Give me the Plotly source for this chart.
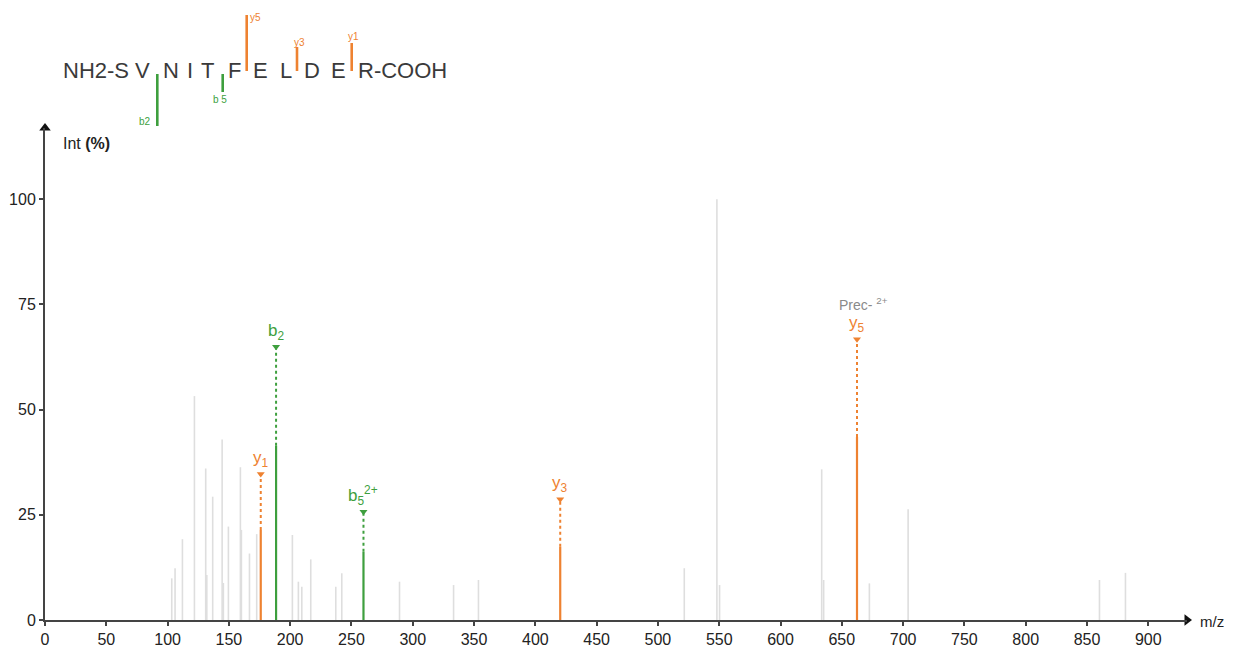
import plotly.graph_objects as go

# ---------------- data ----------------
other_mz = [103.4, 106.1, 112.1, 121.9, 131.1, 132.0, 136.8, 144.5, 145.5, 149.6,
            159.4, 160.2, 166.8, 172.7, 201.8, 206.7, 209.5, 216.8, 237.2, 242.1,
            289.2, 333.3, 353.6, 521.5, 548.1, 550.3, 633.6, 635.2, 672.5, 704.1,
            860.2, 881.4]
other_int = [9.9, 12.3, 19.2, 53.2, 36.0, 10.7, 29.3, 42.9, 8.8, 22.2,
             36.3, 21.4, 15.8, 20.4, 20.2, 9.1, 7.9, 14.4, 7.9, 11.1,
             9.1, 8.3, 9.5, 12.3, 100.0, 8.3, 35.8, 9.5, 8.7, 26.3,
             9.5, 11.2]

ion_names = ["y1", "b2", "b5_2+", "y3", "y5"]
ion_labels = ["y<sub>1</sub>", "b<sub>2</sub>", "b<sub>5</sub><sup>2+</sup>", "y<sub>3</sub>", "y<sub>5</sub>"]
ion_mz = [176.0, 188.5, 259.8, 420.3, 662.4]
ion_obs = [21.4, 41.4, 16.2, 17.4, 43.5]
ion_pred = [34.7, 64.9, 25.7, 28.7, 66.7]

x_ticks = list(range(0, 901, 50))
y_ticks = [0, 25, 50, 75, 100]

sequence = ["V", "N", "I", "T", "F", "E", "L", "D", "E"]
n_term = "NH2-S"
c_term = "R-COOH"

ORANGE = "#EE8231"
GREEN = "#3E9F3E"
GRAY = "#DEDEDE"
FONT = "Liberation Sans, Arial, sans-serif"

# ---------------- layout geometry (screen pixels) ----------------
W, H = 1240, 650
OFF = 8                       # page body margin offset of the figure
PL, PR, PT, PB = 45, 1187, 128, 620   # plot area in screen pixels
X_MAX = 931.6
Y_MAX = 116.9


def px_x(px):
    return (px - PL) / (PR - PL)


def px_y(py):
    return (PB - py) / (PB - PT)


fig = go.Figure()

# gray unannotated peaks
xs, ys = [], []
for m, h in zip(other_mz, other_int):
    xs += [m, m, None]
    ys += [0, h, None]
fig.add_trace(go.Scatter(x=xs, y=ys, mode="lines", line=dict(color=GRAY, width=1.6),
                         hoverinfo="skip", showlegend=False))

# annotated ions
for name, lab, m, obs, pred in zip(ion_names, ion_labels, ion_mz, ion_obs, ion_pred):
    col = ORANGE if name.startswith("y") else GREEN
    fig.add_trace(go.Scatter(x=[m, m], y=[0, obs], mode="lines",
                             line=dict(color=col, width=2.2), showlegend=False, hoverinfo="skip"))
    fig.add_trace(go.Scatter(x=[m, m], y=[obs, pred], mode="lines",
                             line=dict(color=col, width=2, dash="dot"), showlegend=False, hoverinfo="skip"))
    fig.add_trace(go.Scatter(x=[m], y=[pred], mode="markers",
                             marker=dict(symbol="triangle-down", size=7, color=col),
                             showlegend=False, hoverinfo="skip", cliponaxis=False))
    fig.add_annotation(x=m, y=pred, text=lab, showarrow=False, xanchor="center", yanchor="bottom",
                       yshift=2, font=dict(family=FONT, size=17, color=col))
    if name == "y5":
        fig.add_annotation(x=m, y=pred, text="Prec- <sup>2+</sup>", showarrow=False,
                           xanchor="center", yanchor="bottom", yshift=24, xshift=6,
                           font=dict(family=FONT, size=14, color="#8a8a8a"))

# axis arrowheads
fig.add_trace(go.Scatter(x=[X_MAX], y=[0], mode="markers",
                         marker=dict(symbol="triangle-right", size=10, color="#111"),
                         cliponaxis=False, showlegend=False, hoverinfo="skip"))
fig.add_trace(go.Scatter(x=[0], y=[Y_MAX], mode="markers",
                         marker=dict(symbol="triangle-up", size=10, color="#111"),
                         cliponaxis=False, showlegend=False, hoverinfo="skip"))

# axis labels
fig.add_annotation(xref="paper", yref="paper", x=px_x(1198), y=px_y(621), text="m/z",
                   showarrow=False, xanchor="left", yanchor="middle",
                   font=dict(family=FONT, size=15, color="#222"))
fig.add_annotation(xref="paper", yref="paper", x=px_x(61), y=px_y(143), text="Int <b>(%)</b>",
                   showarrow=False, xanchor="left", yanchor="middle",
                   font=dict(family=FONT, size=16, color="#222"))

# ---------------- peptide sequence header ----------------
SEQ_Y = 71
res_px = [142.5, 170.5, 190, 207.5, 234, 260, 286, 311.5, 338.5]
fig.add_annotation(xref="paper", yref="paper", x=px_x(131), y=px_y(SEQ_Y), text=n_term,
                   showarrow=False, xanchor="right", yanchor="middle",
                   font=dict(family=FONT, size=22, color="#3a3a3a"))
for aa, p in zip(sequence, res_px):
    fig.add_annotation(xref="paper", yref="paper", x=px_x(p), y=px_y(SEQ_Y), text=aa,
                       showarrow=False, xanchor="center", yanchor="middle",
                       font=dict(family=FONT, size=22, color="#3a3a3a"))
fig.add_annotation(xref="paper", yref="paper", x=px_x(356), y=px_y(SEQ_Y), text=c_term,
                   showarrow=False, xanchor="left", yanchor="middle",
                   font=dict(family=FONT, size=22, color="#3a3a3a"))

# fragment markers: (label, x pixel, y top, y bottom, label x, label y, color)
frag_marks = [
    ("b2", 157.3, 74, 126, 145, 121, GREEN),
    ("b 5", 222.7, 74, 92, 220, 99, GREEN),
    ("y5", 246.7, 15, 71, 255, 17, ORANGE),
    ("y3", 297.0, 47, 71, 299, 42, ORANGE),
    ("y1", 351.7, 43, 71, 353, 37, ORANGE),
]
for lab, xp, yt, yb, lx, ly, col in frag_marks:
    fig.add_shape(type="line", xref="paper", yref="paper", x0=px_x(xp), x1=px_x(xp),
                  y0=px_y(yt), y1=px_y(yb), line=dict(color=col, width=2.6))
    fig.add_annotation(xref="paper", yref="paper", x=px_x(lx), y=px_y(ly), text=lab,
                       showarrow=False, xanchor="center", yanchor="middle",
                       font=dict(family=FONT, size=10, color=col))

fig.update_layout(
    width=W, height=H,
    margin=dict(l=PL - OFF, r=W - (PR - OFF), t=PT - OFF, b=H - (PB - OFF), autoexpand=False),
    paper_bgcolor="white", plot_bgcolor="white",
    showlegend=False,
    xaxis=dict(range=[0, X_MAX], tickvals=x_ticks, ticks="outside", ticklen=4, tickwidth=1.5,
               tickcolor="#444", showline=True, linecolor="#444", linewidth=2,
               showgrid=False, zeroline=False, automargin=False,
               tickfont=dict(family=FONT, size=16, color="#222")),
    yaxis=dict(range=[0, Y_MAX], tickvals=y_ticks, ticks="outside", ticklen=4, tickwidth=1.5,
               tickcolor="#444", showline=True, linecolor="#444", linewidth=2,
               showgrid=False, zeroline=False, automargin=False,
               tickfont=dict(family=FONT, size=16, color="#222")),
)

fig.write_html("out.html")
